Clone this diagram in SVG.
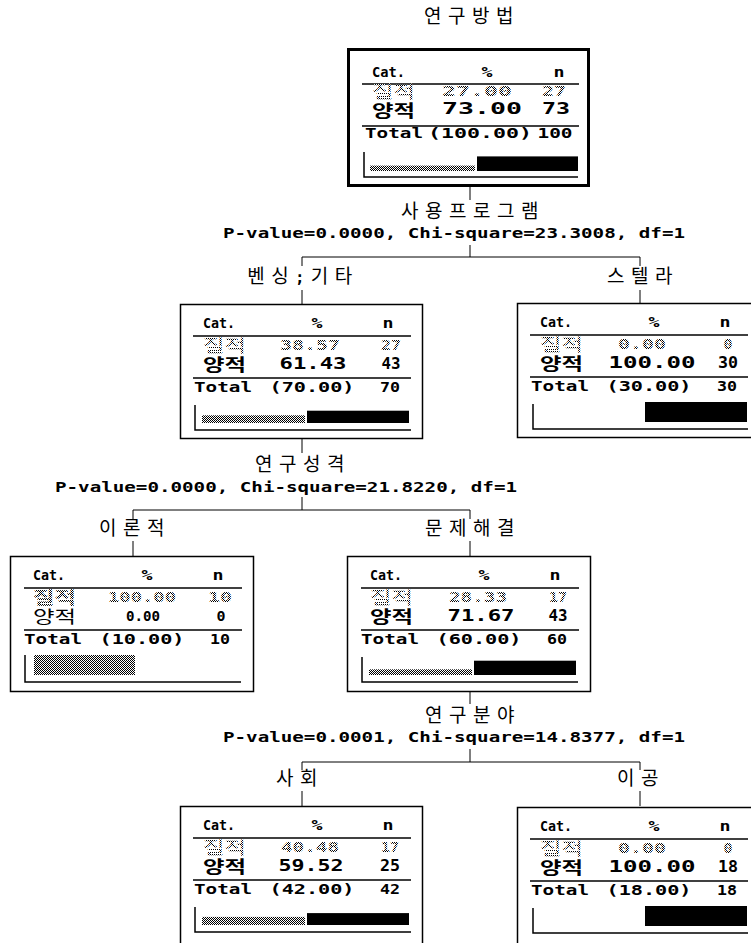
<svg xmlns="http://www.w3.org/2000/svg" width="751" height="943" viewBox="0 0 751 943">
<defs>
<pattern id="dots" width="2" height="2" patternUnits="userSpaceOnUse">
<rect width="2" height="2" fill="#fff"/>
<rect width="1" height="1" fill="#000"/>
<rect x="1" y="1" width="1" height="1" fill="#000"/>
</pattern>
</defs>
<style>
.k{font-family:"Noto Sans CJK KR","Noto Sans",sans-serif;font-size:19px;fill:#000}
.kr{font-size:17px}
.lbl{letter-spacing:6.5px;text-anchor:middle}
.m{font-family:"DejaVu Sans Mono","Liberation Mono",monospace;font-weight:bold;font-size:14px;fill:#000}
.mc{text-anchor:middle}
.big{font-size:15px}
.dot{fill:url(#dots)}
.b{font-weight:bold}
.box{fill:#fff;stroke:#000;stroke-width:1.5}
.rootbox{fill:#fff;stroke:#000;stroke-width:3}
.rule{stroke:#000;stroke-width:1.5}
.axis{fill:none;stroke:#000;stroke-width:1.5}
.hb{fill:url(#dots)}
.bb{fill:#000}
#connectors line{stroke:#000;stroke-width:1}
</style>
<rect width="751" height="943" fill="#fff"/>

<g id="connectors">
<line x1="470" y1="187" x2="470" y2="200"/>
<line x1="470" y1="245" x2="470" y2="257"/>
<line x1="302" y1="257" x2="640" y2="257"/>
<line x1="302" y1="257" x2="302" y2="266"/>
<line x1="640" y1="257" x2="640" y2="266"/>
<line x1="302" y1="290" x2="302" y2="304"/>
<line x1="640" y1="290" x2="640" y2="303"/>
<line x1="302" y1="439" x2="302" y2="453"/>
<line x1="302" y1="497" x2="302" y2="510"/>
<line x1="133" y1="510" x2="470" y2="510"/>
<line x1="133" y1="510" x2="133" y2="519"/>
<line x1="470" y1="510" x2="470" y2="519"/>
<line x1="133" y1="541" x2="133" y2="556"/>
<line x1="470" y1="541" x2="470" y2="556"/>
<line x1="470" y1="691" x2="470" y2="704"/>
<line x1="470" y1="749" x2="470" y2="762"/>
<line x1="302" y1="762" x2="640" y2="762"/>
<line x1="302" y1="762" x2="302" y2="770"/>
<line x1="640" y1="762" x2="640" y2="770"/>
<line x1="302" y1="791" x2="302" y2="806"/>
<line x1="640" y1="791" x2="640" y2="806"/>
</g>

<g id="labels">
<text class="k lbl" x="472" y="23">연구방법</text>
<text class="k lbl" x="473" y="218">사용프로그램</text>
<text class="m" x="223" y="238" textLength="462" lengthAdjust="spacingAndGlyphs">P-value=0.0000, Chi-square=23.3008, df=1</text>
<text class="k lbl" x="303" y="283">벤싱<tspan font-family="DejaVu Sans Mono" font-weight="bold" font-size="15">;</tspan>기타</text>
<text class="k lbl" x="643" y="283">스텔라</text>
<text class="k lbl" x="303" y="471">연구성격</text>
<text class="m" x="55" y="492" textLength="462" lengthAdjust="spacingAndGlyphs">P-value=0.0000, Chi-square=21.8220, df=1</text>
<text class="k lbl" x="135" y="535">이론적</text>
<text class="k lbl" x="473" y="535">문제해결</text>
<text class="k lbl" x="473" y="722">연구분야</text>
<text class="m" x="223" y="742" textLength="462" lengthAdjust="spacingAndGlyphs">P-value=0.0001, Chi-square=14.8377, df=1</text>
<text class="k lbl" x="300" y="785">사회</text>
<text class="k lbl" x="641" y="785">이공</text>
</g>

<g id="node-root" transform="translate(349,52)">
<rect class="rootbox" x="-0.5" y="-2.5" width="240" height="136"/>
<text class="m" x="23" y="25" textLength="33" lengthAdjust="spacingAndGlyphs">Cat.</text>
<text class="m mc" x="138" y="25" textLength="11" lengthAdjust="spacingAndGlyphs">%</text>
<text class="m mc" x="210" y="25" textLength="11" lengthAdjust="spacingAndGlyphs">n</text>
<line class="rule" x1="13" y1="32" x2="230" y2="32"/>
<text class="k kr" x="23" y="46" textLength="43" lengthAdjust="spacingAndGlyphs" style="fill:url(#dots)">질적</text>
<text class="m mc dot" x="128" y="44" textLength="70" lengthAdjust="spacingAndGlyphs">27.00</text>
<text class="m mc dot" x="205" y="44" textLength="24" lengthAdjust="spacingAndGlyphs">27</text>
<text class="k kr b" x="23" y="65" textLength="43" lengthAdjust="spacingAndGlyphs">양적</text>
<text class="m mc big" x="133" y="62" textLength="80" lengthAdjust="spacingAndGlyphs">73.00</text>
<text class="m mc big" x="207" y="62" textLength="28" lengthAdjust="spacingAndGlyphs">73</text>
<line class="rule" x1="13" y1="74" x2="230" y2="74"/>
<text class="m" x="16" y="86" textLength="58" lengthAdjust="spacingAndGlyphs">Total</text>
<text class="m mc" x="131" y="86" textLength="104" lengthAdjust="spacingAndGlyphs">(100.00)</text>
<text class="m mc" x="206" y="86" textLength="35" lengthAdjust="spacingAndGlyphs">100</text>
<path class="axis" d="M15 100V125H229"/>
<rect class="hb" x="21" y="113.6" width="105" height="5.4"/>
<rect class="bb" x="128" y="104.4" width="101" height="14.6"/>
</g>

<g id="node-bensing" transform="translate(180,304)">
<rect class="box" x="0.5" y="0.5" width="242" height="134"/>
<text class="m" x="23" y="24" textLength="32" lengthAdjust="spacingAndGlyphs">Cat.</text>
<text class="m mc" x="137" y="24" textLength="11" lengthAdjust="spacingAndGlyphs">%</text>
<text class="m mc" x="208" y="24" textLength="11" lengthAdjust="spacingAndGlyphs">n</text>
<line class="rule" x1="13" y1="32" x2="231" y2="32"/>
<text class="k kr" x="23" y="48" textLength="43" lengthAdjust="spacingAndGlyphs" style="fill:url(#dots)">질적</text>
<text class="m mc dot" x="130" y="46" textLength="60" lengthAdjust="spacingAndGlyphs">38.57</text>
<text class="m mc dot" x="211" y="46" textLength="20" lengthAdjust="spacingAndGlyphs">27</text>
<text class="k kr b" x="23" y="67" textLength="43" lengthAdjust="spacingAndGlyphs">양적</text>
<text class="m mc big" x="133" y="65" textLength="67" lengthAdjust="spacingAndGlyphs">61.43</text>
<text class="m mc big" x="211" y="65" textLength="19" lengthAdjust="spacingAndGlyphs">43</text>
<line class="rule" x1="13" y1="74" x2="231" y2="74"/>
<text class="m" x="14" y="88" textLength="58" lengthAdjust="spacingAndGlyphs">Total</text>
<text class="m mc" x="132" y="88" textLength="85" lengthAdjust="spacingAndGlyphs">(70.00)</text>
<text class="m mc" x="210" y="88" textLength="20" lengthAdjust="spacingAndGlyphs">70</text>
<path class="axis" d="M15 101V126H231"/>
<rect class="hb" x="22" y="111.3" width="103" height="7.7"/>
<rect class="bb" x="127" y="106.7" width="102" height="12.3"/>
</g>

<g id="node-stella" transform="translate(517,303)">
<rect class="box" x="0.5" y="0.5" width="242" height="134"/>
<text class="m" x="23" y="24" textLength="32" lengthAdjust="spacingAndGlyphs">Cat.</text>
<text class="m mc" x="137" y="24" textLength="11" lengthAdjust="spacingAndGlyphs">%</text>
<text class="m mc" x="208" y="24" textLength="11" lengthAdjust="spacingAndGlyphs">n</text>
<line class="rule" x1="13" y1="32" x2="231" y2="32"/>
<text class="k kr" x="23" y="48" textLength="43" lengthAdjust="spacingAndGlyphs" style="fill:url(#dots)">질적</text>
<text class="m mc dot" x="125" y="46" textLength="48" lengthAdjust="spacingAndGlyphs">0.00</text>
<text class="m mc dot" x="211" y="46" textLength="9" lengthAdjust="spacingAndGlyphs">0</text>
<text class="k kr b" x="23" y="67" textLength="43" lengthAdjust="spacingAndGlyphs">양적</text>
<text class="m mc big" x="135" y="65" textLength="87" lengthAdjust="spacingAndGlyphs">100.00</text>
<text class="m mc big" x="211" y="65" textLength="20" lengthAdjust="spacingAndGlyphs">30</text>
<line class="rule" x1="13" y1="74" x2="231" y2="74"/>
<text class="m" x="14" y="88" textLength="58" lengthAdjust="spacingAndGlyphs">Total</text>
<text class="m mc" x="132" y="88" textLength="85" lengthAdjust="spacingAndGlyphs">(30.00)</text>
<text class="m mc" x="210" y="88" textLength="20" lengthAdjust="spacingAndGlyphs">30</text>
<path class="axis" d="M16 101V126H231"/>
<rect class="bb" x="128" y="99" width="102" height="20"/>
</g>

<g id="node-ironjeok" transform="translate(10,556)">
<rect class="box" x="0.5" y="0.5" width="243" height="135"/>
<text class="m" x="23" y="24" textLength="32" lengthAdjust="spacingAndGlyphs">Cat.</text>
<text class="m mc" x="137" y="24" textLength="11" lengthAdjust="spacingAndGlyphs">%</text>
<text class="m mc" x="208" y="24" textLength="11" lengthAdjust="spacingAndGlyphs">n</text>
<line class="rule" x1="14" y1="32" x2="232" y2="32"/>
<text class="k kr b" x="23" y="48" textLength="43" lengthAdjust="spacingAndGlyphs" style="fill:url(#dots)">질적</text>
<text class="m mc dot" x="132" y="46" textLength="68" lengthAdjust="spacingAndGlyphs">100.00</text>
<text class="m mc dot" x="210" y="46" textLength="24" lengthAdjust="spacingAndGlyphs">10</text>
<text class="k kr" x="23" y="67" textLength="43" lengthAdjust="spacingAndGlyphs">양적</text>
<text class="m mc" x="133" y="65" textLength="34" lengthAdjust="spacingAndGlyphs">0.00</text>
<text class="m mc" x="211" y="65" textLength="9" lengthAdjust="spacingAndGlyphs">0</text>
<line class="rule" x1="14" y1="74" x2="232" y2="74"/>
<text class="m" x="14" y="88" textLength="58" lengthAdjust="spacingAndGlyphs">Total</text>
<text class="m mc" x="132" y="88" textLength="85" lengthAdjust="spacingAndGlyphs">(10.00)</text>
<text class="m mc" x="210" y="88" textLength="20" lengthAdjust="spacingAndGlyphs">10</text>
<path class="axis" d="M15 99V126H231"/>
<rect class="hb" x="24" y="99" width="101" height="20"/>
</g>

<g id="node-munje" transform="translate(347,556)">
<rect class="box" x="0.5" y="0.5" width="243" height="135"/>
<text class="m" x="23" y="24" textLength="32" lengthAdjust="spacingAndGlyphs">Cat.</text>
<text class="m mc" x="137" y="24" textLength="11" lengthAdjust="spacingAndGlyphs">%</text>
<text class="m mc" x="208" y="24" textLength="11" lengthAdjust="spacingAndGlyphs">n</text>
<line class="rule" x1="14" y1="32" x2="232" y2="32"/>
<text class="k kr" x="23" y="48" textLength="43" lengthAdjust="spacingAndGlyphs" style="fill:url(#dots)">질적</text>
<text class="m mc dot" x="131" y="46" textLength="58" lengthAdjust="spacingAndGlyphs">28.33</text>
<text class="m mc dot" x="211" y="46" textLength="18" lengthAdjust="spacingAndGlyphs">17</text>
<text class="k kr b" x="23" y="67" textLength="43" lengthAdjust="spacingAndGlyphs">양적</text>
<text class="m mc big" x="134" y="65" textLength="67" lengthAdjust="spacingAndGlyphs">71.67</text>
<text class="m mc big" x="211" y="65" textLength="19" lengthAdjust="spacingAndGlyphs">43</text>
<line class="rule" x1="14" y1="74" x2="232" y2="74"/>
<text class="m" x="14" y="88" textLength="58" lengthAdjust="spacingAndGlyphs">Total</text>
<text class="m mc" x="132" y="88" textLength="85" lengthAdjust="spacingAndGlyphs">(60.00)</text>
<text class="m mc" x="210" y="88" textLength="20" lengthAdjust="spacingAndGlyphs">60</text>
<path class="axis" d="M15 101V126H231"/>
<rect class="hb" x="22" y="113.3" width="103" height="5.7"/>
<rect class="bb" x="127" y="104.7" width="102" height="14.3"/>
</g>

<g id="node-sahoe" transform="translate(180,806)">
<rect class="box" x="0.5" y="0.5" width="242" height="140"/>
<text class="m" x="23" y="24" textLength="32" lengthAdjust="spacingAndGlyphs">Cat.</text>
<text class="m mc" x="137" y="24" textLength="11" lengthAdjust="spacingAndGlyphs">%</text>
<text class="m mc" x="208" y="24" textLength="11" lengthAdjust="spacingAndGlyphs">n</text>
<line class="rule" x1="13" y1="32" x2="231" y2="32"/>
<text class="k kr" x="23" y="48" textLength="43" lengthAdjust="spacingAndGlyphs" style="fill:url(#dots)">질적</text>
<text class="m mc dot" x="130" y="46" textLength="58" lengthAdjust="spacingAndGlyphs">40.48</text>
<text class="m mc dot" x="210" y="46" textLength="18" lengthAdjust="spacingAndGlyphs">17</text>
<text class="k kr b" x="23" y="67" textLength="43" lengthAdjust="spacingAndGlyphs">양적</text>
<text class="m mc big" x="131" y="65" textLength="65" lengthAdjust="spacingAndGlyphs">59.52</text>
<text class="m mc big" x="210" y="65" textLength="20" lengthAdjust="spacingAndGlyphs">25</text>
<line class="rule" x1="13" y1="74" x2="231" y2="74"/>
<text class="m" x="14" y="88" textLength="58" lengthAdjust="spacingAndGlyphs">Total</text>
<text class="m mc" x="132" y="88" textLength="85" lengthAdjust="spacingAndGlyphs">(42.00)</text>
<text class="m mc" x="210" y="88" textLength="20" lengthAdjust="spacingAndGlyphs">42</text>
<path class="axis" d="M15 101V126H231"/>
<rect class="hb" x="22" y="110.9" width="103" height="8.1"/>
<rect class="bb" x="127" y="107.1" width="102" height="11.9"/>
</g>

<g id="node-igong" transform="translate(517,807)">
<rect class="box" x="0.5" y="0.5" width="242" height="140"/>
<text class="m" x="23" y="24" textLength="32" lengthAdjust="spacingAndGlyphs">Cat.</text>
<text class="m mc" x="137" y="24" textLength="11" lengthAdjust="spacingAndGlyphs">%</text>
<text class="m mc" x="208" y="24" textLength="11" lengthAdjust="spacingAndGlyphs">n</text>
<line class="rule" x1="13" y1="32" x2="231" y2="32"/>
<text class="k kr" x="23" y="48" textLength="43" lengthAdjust="spacingAndGlyphs" style="fill:url(#dots)">질적</text>
<text class="m mc dot" x="125" y="46" textLength="48" lengthAdjust="spacingAndGlyphs">0.00</text>
<text class="m mc dot" x="211" y="46" textLength="9" lengthAdjust="spacingAndGlyphs">0</text>
<text class="k kr b" x="23" y="67" textLength="43" lengthAdjust="spacingAndGlyphs">양적</text>
<text class="m mc big" x="135" y="65" textLength="87" lengthAdjust="spacingAndGlyphs">100.00</text>
<text class="m mc big" x="211" y="65" textLength="20" lengthAdjust="spacingAndGlyphs">18</text>
<line class="rule" x1="13" y1="74" x2="231" y2="74"/>
<text class="m" x="14" y="88" textLength="58" lengthAdjust="spacingAndGlyphs">Total</text>
<text class="m mc" x="132" y="88" textLength="85" lengthAdjust="spacingAndGlyphs">(18.00)</text>
<text class="m mc" x="210" y="88" textLength="20" lengthAdjust="spacingAndGlyphs">18</text>
<path class="axis" d="M16 101V126H231"/>
<rect class="bb" x="128" y="99" width="102" height="20"/>
</g>
</svg>
